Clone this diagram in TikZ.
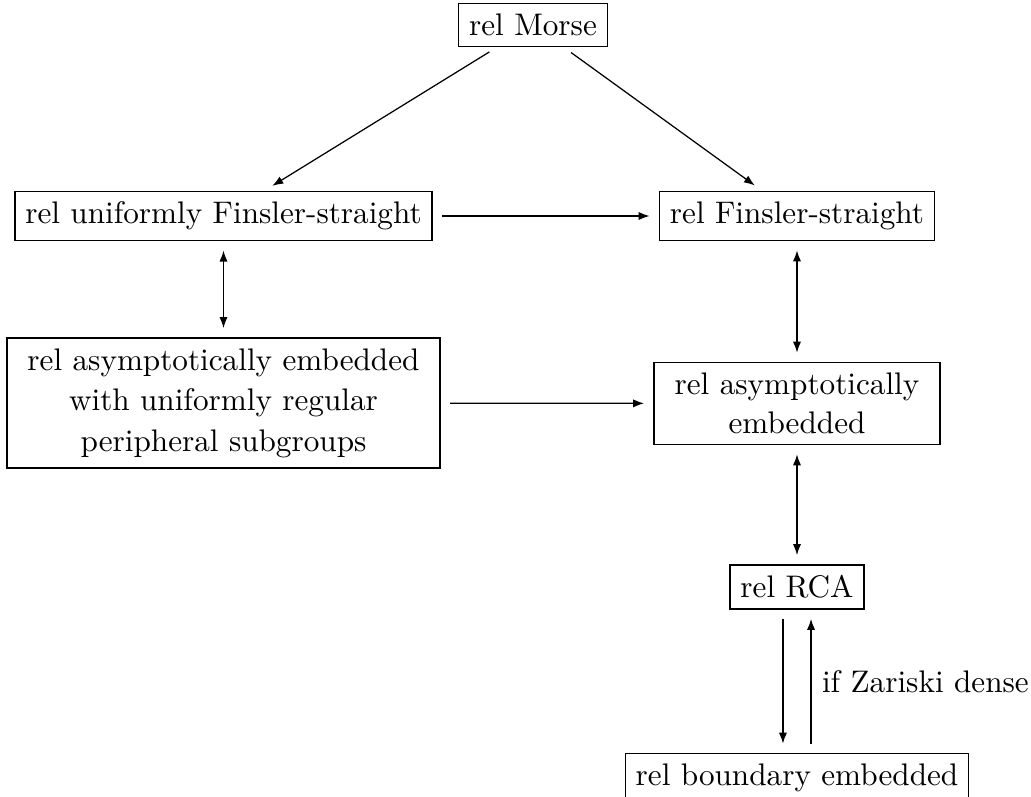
\documentclass[tikz,border=0pt]{standalone}
\usetikzlibrary{arrows.meta}
\begin{document}
\begin{tikzpicture}[x=0.3205pt,y=-0.3205pt,
		box/.style={draw, align=center, inner sep=3.33pt},
		widebox/.style={box, inner xsep=6.6pt},
		arr/.style={-{Latex[length=3.5pt,width=2.6pt]}, shorten >=3pt, shorten <=3pt},
		dbl/.style={{Latex[length=3.5pt,width=2.6pt]}-{Latex[length=3.5pt,width=2.6pt]}, shorten >=3pt, shorten <=3pt}]
		\useasboundingbox (0,0) rectangle (1031,797);
		\node[box] (morse) at (533,25) {rel Morse};
		\node[box] (unifin) at (223.5,216) {rel uniformly Finsler-straight};
		\node[box] (fin) at (797,216) {rel Finsler-straight};
		\node[widebox] (unias) at (223.5,403) {rel asymptotically embedded\\[1pt] with uniformly regular\\[1pt] peripheral subgroups};
		\node[widebox] (asemb) at (797,403.5) {rel asymptotically\\[0.5pt] embedded};
		\node[box] (rca) at (797,587) {rel RCA};
		\node[box] (bdry) at (797,778) {rel boundary embedded};
		\draw[arr] (morse) -- (unifin);
		\draw[arr] (morse) -- (fin);
		\draw[arr] (unifin) -- (fin);
		\draw[dbl] (unifin) -- (unias);
		\draw[dbl] (fin) -- (asemb);
		\draw[arr] (unias) -- (asemb);
		\draw[dbl] (asemb) -- (rca);
		\draw[arr] ([xshift=-4.5pt]rca.south) -- ([xshift=-4.5pt]bdry.north);
		\draw[arr] ([xshift=4.5pt]bdry.north) -- ([xshift=4.5pt]rca.south) node[midway, right] (zar) {if Zariski dense};
	\end{tikzpicture}
\end{document}
